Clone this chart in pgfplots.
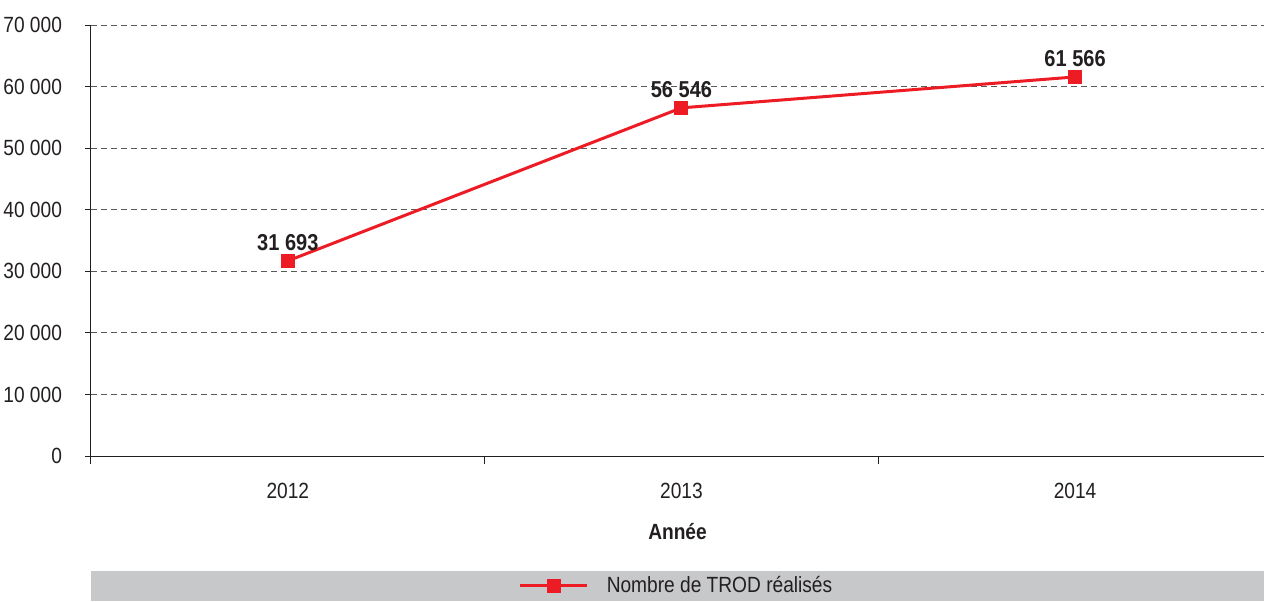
\documentclass[border=0pt]{standalone}
\usepackage{fontspec}
\setmainfont{Liberation Sans}[FakeStretch=0.87]
\usepackage{pgfplots}
\pgfplotsset{compat=1.18}
\definecolor{trodred}{RGB}{237,28,36}
\definecolor{txt}{RGB}{35,31,32}
\definecolor{legbg}{RGB}{199,200,202}
\definecolor{gridc}{RGB}{90,90,90}

\begin{document}
\begin{tikzpicture}
\path[use as bounding box] (-45.5pt,-72.5pt) rectangle (586.5pt,228pt);
\begin{axis}[
    at={(0,0)}, anchor=south west,
    scale only axis,
    width=586.5pt, height=215.5pt,
    xmin=-0.5, xmax=2.48,
    ymin=0, ymax=70000,
    axis x line*=bottom,
    axis y line*=left,
    axis line style={color=txt, line width=0.5pt},
    xtick={0,1,2},
    xticklabels={2012,2013,2014},
    minor xtick={-0.5,0.5,1.5},
    minor tick length=4pt,
    every major x tick/.style={draw=none},
    ytick={0,10000,...,70000},
    scaled y ticks=false,
    major tick length=3pt,
    tick align=outside,
    tick style={color=txt, line width=0.5pt},
    ymajorgrids,
    major grid style={color=gridc, dash pattern=on 3pt off 2pt, line width=0.4pt},
    /pgf/number format/.cd, fixed, 1000 sep={\ }, assume math mode=true,
    /pgfplots/.cd,
    ticklabel style={font=\fontsize{11}{12}\selectfont, color=txt},
    yticklabel style={xshift=-8pt},
    xticklabel style={yshift=-7pt},
    xlabel={\textbf{Année}},
    xlabel style={font=\fontsize{11}{12}\selectfont, color=txt, yshift=-5.5pt},
    clip=false,
    legend style={at={(rel axis cs:0.5,-0.3016)}, anchor=center, draw=none, fill=none,
        font=\fontsize{11}{12}\selectfont, text=txt, inner sep=0pt},
    legend image code/.code={\draw[#1,mark repeat=2,mark phase=2] plot coordinates {(0pt,0pt) (16.75pt,0pt) (33.5pt,0pt)};},
    nodes near coords,
    point meta=explicit symbolic,
    every node near coord/.append style={font=\bfseries\fontsize{11.5}{12}\selectfont, color=txt, yshift=1pt},
]
\fill[legbg] (rel axis cs:0,-0.2668) rectangle (rel axis cs:1,-0.3364);
\addplot[color=trodred, line width=1.5pt, mark=square*, mark size=2.75pt,
    mark options={solid, fill=trodred, draw=trodred}] coordinates {
(0,31693) [31 693]
(1,56546) [56 546]
(2,61566) [61 566]
};
\addlegendentry{\hspace{7pt}Nombre de TROD réalisés}
\end{axis}
\end{tikzpicture}
\end{document}
